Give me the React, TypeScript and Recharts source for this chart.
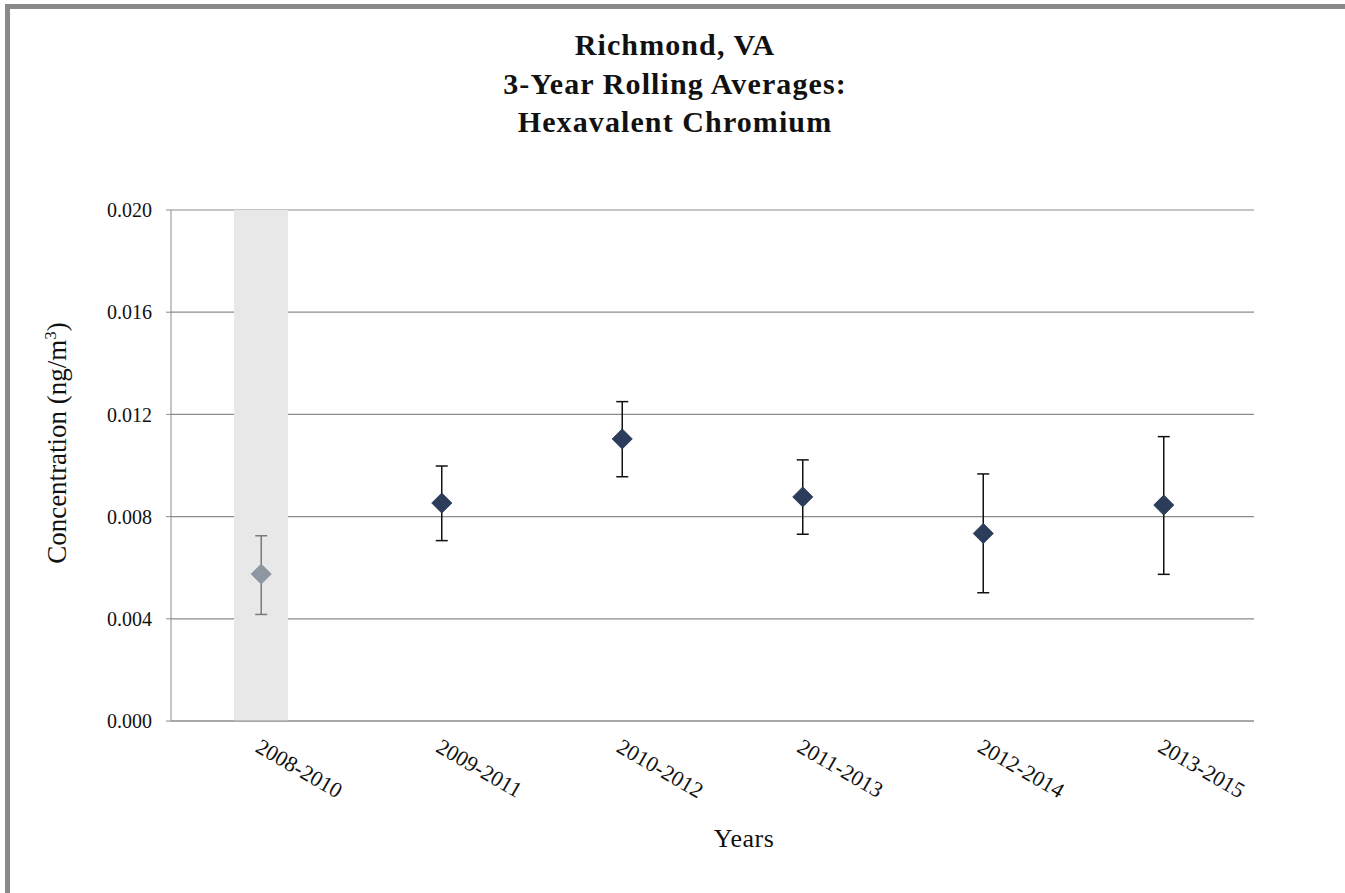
import React from "react";
import { Bar, ComposedChart, CartesianGrid, ErrorBar, Line, XAxis, YAxis } from "recharts";

const periods = ["2008-2010", "2009-2011", "2010-2012", "2011-2013", "2012-2014", "2013-2015"];
const means = [0.00575, 0.00853, 0.01104, 0.00877, 0.00734, 0.00845];
const lower = [0.00417, 0.00706, 0.00956, 0.00731, 0.00502, 0.00574];
const upper = [0.00725, 0.00998, 0.0125, 0.01022, 0.00967, 0.01113];
// first period is shaded and plotted in grey (incomplete data)
const excluded = [true, false, false, false, false, false];
const yTicks = [0, 0.004, 0.008, 0.012, 0.016, 0.02];
const edgeTicks = [0, 1, 2, 3, 4, 5, 6];

const SERIF = '"Times New Roman", "Liberation Serif", serif';

const chartData = periods.map((p, i) => ({
  period: p,
  band: excluded[i] ? 0.02 : null,
  grey: excluded[i] ? means[i] : null,
  dark: excluded[i] ? null : means[i],
  errGrey: excluded[i] ? [means[i] - lower[i], upper[i] - means[i]] : null,
  errDark: excluded[i] ? null : [means[i] - lower[i], upper[i] - means[i]],
}));

function diamond(fill: string) {
  return (props: any) => {
    const { cx, cy, index } = props;
    if (cx == null || cy == null || Number.isNaN(cy)) return <g key={index} />;
    const r = 10;
    return (
      <path
        key={index}
        d={`M${cx},${cy - r}L${cx + r},${cy}L${cx},${cy + r}L${cx - r},${cy}Z`}
        fill={fill}
        stroke={fill}
        strokeWidth={1}
      />
    );
  };
}

function XTick(props: any) {
  const { x, y, payload } = props;
  const tx = x - 7;
  const ty = y + 20;
  return (
    <text
      x={tx}
      y={ty}
      transform={`rotate(30 ${tx} ${ty})`}
      textAnchor="start"
      fontFamily={SERIF}
      fontSize={22}
      fill="#111"
    >
      {payload.value}
    </text>
  );
}

export default function App() {
  return (
    <div style={{ position: "absolute", left: 0, top: 0, width: 1345, height: 893, background: "#fff" }}>
      <style>{"body{margin:0}"}</style>
      <div
        style={{
          position: "absolute",
          left: 5,
          top: 4,
          width: 1340,
          height: 889,
          borderTop: "5px solid #898989",
          borderLeft: "5px solid #898989",
          boxSizing: "border-box",
        }}
      >
        <div
          style={{
            position: "absolute",
            left: 0,
            top: 17,
            width: 1330,
            textAlign: "center",
            fontFamily: SERIF,
            fontWeight: "bold",
            fontSize: 30,
            letterSpacing: 1.1,
            lineHeight: "38.5px",
            color: "#111",
          }}
        >
          Richmond, VA
          <br />
          3-Year Rolling Averages:
          <br />
          Hexavalent Chromium
        </div>
        <div style={{ position: "absolute", left: 0, top: 0 }}>
          <ComposedChart
            width={1330}
            height={880}
            data={chartData}
            margin={{ top: 201, right: 86, left: 81, bottom: 88 }}
          >
            <CartesianGrid horizontal vertical={false} stroke="#8c8c8c" strokeWidth={1.2} xAxisId="cat" />
            <XAxis
              xAxisId={0}
              type="number"
              domain={[0, 6]}
              ticks={edgeTicks}
              tick={false}
              tickSize={6}
              height={10}
              stroke="#8c8c8c"
              allowDataOverflow
            />
            <XAxis
              xAxisId="cat"
              dataKey="period"
              type="category"
              tick={<XTick />}
              tickLine={false}
              axisLine={false}
              tickSize={0}
              tickMargin={0}
              height={70}
              interval={0}
            />
            <YAxis
              domain={[0, 0.02]}
              ticks={yTicks}
              type="number"
              width={80}
              tickFormatter={(v: number) => v.toFixed(3)}
              tick={{ fontFamily: SERIF, fontSize: 20, fill: "#111" }}
              tickSize={5}
              tickMargin={14}
              stroke="#8c8c8c"
              allowDataOverflow
            />
            <Bar xAxisId="cat" dataKey="band" fill="#e8e8e8" barSize={54} isAnimationActive={false} />
            <Line
              xAxisId="cat"
              dataKey="grey"
              stroke="none"
              dot={diamond("#8e96a2")}
              activeDot={false}
              isAnimationActive={false}
              connectNulls={false}
            >
              <ErrorBar dataKey="errGrey" direction="y" width={6} stroke="#7a7a7a" strokeWidth={1.5} />
            </Line>
            <Line
              xAxisId="cat"
              dataKey="dark"
              stroke="none"
              dot={diamond("#2b3d5b")}
              activeDot={false}
              isAnimationActive={false}
              connectNulls={false}
            >
              <ErrorBar dataKey="errDark" direction="y" width={6} stroke="#111" strokeWidth={1.5} />
            </Line>
          </ComposedChart>
        </div>
        <div
          style={{
            position: "absolute",
            left: 47,
            top: 434,
            width: 0,
            height: 0,
          }}
        >
          <div
            style={{
              position: "absolute",
              transform: "translate(-50%, -50%) rotate(-90deg)",
              whiteSpace: "nowrap",
              fontFamily: SERIF,
              fontSize: 27,
              color: "#111",
            }}
          >
            Concentration (ng/m<sup style={{ fontSize: 17 }}>3</sup>)
          </div>
        </div>
        <div
          style={{
            position: "absolute",
            left: 634,
            top: 815,
            width: 200,
            textAlign: "center",
            fontFamily: SERIF,
            fontSize: 26,
            letterSpacing: 0.5,
            color: "#111",
          }}
        >
          Years
        </div>
      </div>
    </div>
  );
}
